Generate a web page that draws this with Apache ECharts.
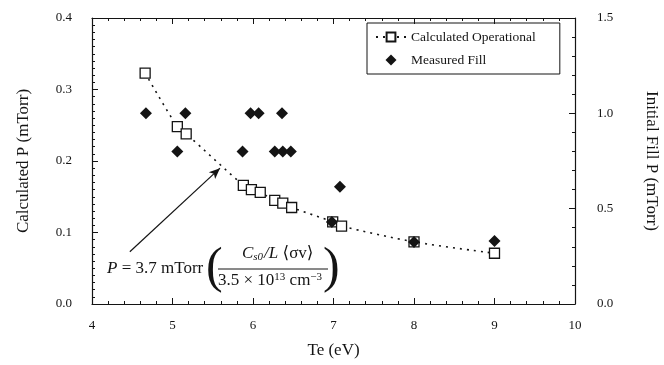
<!DOCTYPE html>
<html>
<head>
<meta charset="utf-8">
<script src="https://cdn.jsdelivr.net/npm/echarts@6/dist/echarts.min.js"></script>
<style>
    html, body { margin: 0; padding: 0; background: #fff; }
    #main { width: 664px; height: 365px; }
</style>
</head>
<body>
<div id="main"></div>
<script>
    // calculated operational pressure (left axis, mTorr) vs Te (eV)
    var calcTe = [4.66, 5.06, 5.17, 5.88, 5.98, 6.09, 6.27, 6.37, 6.48, 6.99, 7.1, 8.0, 9.0];
    var calcP = [0.323, 0.248, 0.238, 0.166, 0.16, 0.156, 0.145, 0.141, 0.135, 0.115, 0.109, 0.087, 0.071];
    // measured initial fill pressure (right axis, mTorr)
    var fillTe = [4.67, 5.06, 5.16, 5.87, 5.97, 6.07, 6.27, 6.36, 6.37, 6.47, 6.98, 7.08, 8.0, 9.0];
    var fillP = [1.0, 0.8, 1.0, 0.8, 1.0, 1.0, 0.8, 1.0, 0.8, 0.8, 0.43, 0.615, 0.325, 0.33];
    // arrow pointing from the formula to the curve (data coords)
    var arrowFrom = [4.47, 0.073];
    var arrowTo = [5.59, 0.19];

    var serif = '"Liberation Serif", "DejaVu Serif", serif';
    var ink = '#141414';

    function pairs(xs, ys) {
        return xs.map(function (x, i) { return [x, ys[i]]; });
    }

    var chart = echarts.init(document.getElementById('main'));

    var axisCommon = {
        axisLine: { show: true, onZero: false, lineStyle: { color: ink, width: 1.2 } },
        axisTick: { show: true, inside: true, length: 6, lineStyle: { color: ink } },
        splitLine: { show: false },
        axisLabel: { color: ink, fontFamily: serif, fontSize: 13 }
    };

    chart.setOption({
        animation: false,
        backgroundColor: '#fff',
        grid: { left: 92, right: 89, top: 18, bottom: 61, containLabel: false, outerBoundsMode: 'none' },
        legend: {
            left: 367,
            top: 23,
            orient: 'vertical',
            padding: [7, 24, 7, 8],
            itemGap: 9,
            itemWidth: 30,
            itemHeight: 11,
            borderColor: ink,
            borderWidth: 1,
            textStyle: { color: ink, fontFamily: serif, fontSize: 13.5 },
            data: [
                'Calculated Operational',
                { name: 'Measured Fill', icon: 'path://M5,0 L10,5 L5,10 L0,5 Z' }
            ]
        },
        xAxis: [
            Object.assign({}, axisCommon, {
                type: 'value', min: 4, max: 10, interval: 1,
                minorTick: { show: true, splitNumber: 5, length: 3, lineStyle: { color: ink } },
                axisLabel: { color: ink, fontFamily: serif, fontSize: 13, margin: 15 },
                name: 'Te (eV)', nameLocation: 'middle', nameGap: 38,
                nameTextStyle: { color: ink, fontFamily: serif, fontSize: 17 }
            }),
            Object.assign({}, axisCommon, {
                type: 'value', min: 4, max: 10, interval: 1, position: 'top',
                minorTick: { show: true, splitNumber: 5, length: 3, lineStyle: { color: ink } },
                axisLabel: { show: false }
            })
        ],
        yAxis: [
            Object.assign({}, axisCommon, {
                type: 'value', min: 0, max: 0.4, interval: 0.1, position: 'left',
                minorTick: { show: true, splitNumber: 10, length: 3, lineStyle: { color: ink } },
                axisLabel: {
                    color: ink, fontFamily: serif, fontSize: 13, margin: 20,
                    formatter: function (v) { return v.toFixed(1); }
                },
                name: 'Calculated P (mTorr)', nameLocation: 'middle', nameGap: 60,
                nameTextStyle: { color: ink, fontFamily: serif, fontSize: 17 }
            }),
            Object.assign({}, axisCommon, {
                type: 'value', min: 0, max: 1.5, interval: 0.5, position: 'right',
                minorTick: { show: true, splitNumber: 5, length: 3, lineStyle: { color: ink } },
                axisLabel: {
                    color: ink, fontFamily: serif, fontSize: 13, margin: 22,
                    formatter: function (v) { return v.toFixed(1); }
                },
                name: 'Initial Fill P (mTorr)', nameLocation: 'middle', nameGap: 68, nameRotate: -90,
                nameTextStyle: { color: ink, fontFamily: serif, fontSize: 17 }
            })
        ],
        series: [
            {
                name: 'Calculated Operational',
                type: 'line',
                xAxisIndex: 0,
                yAxisIndex: 0,
                data: pairs(calcTe, calcP),
                smooth: 0.3,
                symbol: 'rect',
                symbolSize: 10,
                showAllSymbol: true,
                lineStyle: { color: ink, width: 1.6, type: [2, 5] },
                itemStyle: { color: '#fff', borderColor: ink, borderWidth: 1.3 },
                markLine: {
                    silent: true,
                    symbol: ['none', 'arrow'],
                    symbolSize: [7, 11],
                    label: { show: false },
                    lineStyle: { color: ink, width: 1.2, type: 'solid' },
                    data: [[{ coord: arrowFrom }, { coord: arrowTo }]]
                },
                z: 2
            },
            {
                name: 'Measured Fill',
                type: 'scatter',
                xAxisIndex: 0,
                yAxisIndex: 1,
                data: pairs(fillTe, fillP),
                symbol: 'diamond',
                symbolSize: 12,
                itemStyle: { color: ink, opacity: 1 },
                z: 3
            }
        ],
        graphic: [
            {
                type: 'text', left: 107, top: 260,
                style: {
                    text: '{it|P} = 3.7 mTorr',
                    fill: ink, font: '17px ' + serif,
                    rich: { it: { fontStyle: 'italic', fontSize: 17, fontFamily: serif } }
                }
            },
            {
                type: 'text', left: 206, top: 244,
                style: { text: '(', fill: ink, font: '50px ' + serif }
            },
            {
                type: 'text', left: 323, top: 244,
                style: { text: ')', fill: ink, font: '50px ' + serif }
            },
            {
                type: 'text', left: 242, top: 245,
                style: {
                    text: '{it|C}{sub|s0}{it|/L} ⟨σv⟩',
                    fill: ink, font: '17px ' + serif,
                    rich: {
                        it: { fontStyle: 'italic', fontSize: 17, fontFamily: serif },
                        sub: { fontStyle: 'italic', fontSize: 11, fontFamily: serif, verticalAlign: 'bottom', padding: [7, 1, 0, 0] }
                    }
                }
            },
            {
                type: 'line',
                shape: { x1: 218, y1: 269, x2: 328, y2: 269 },
                style: { stroke: ink, lineWidth: 1 }
            },
            {
                type: 'text', left: 218, top: 272,
                style: {
                    text: '3.5 × 10{sup|13} cm{sup|−3}',
                    fill: ink, font: '17px ' + serif,
                    rich: {
                        sup: { fontSize: 11, fontFamily: serif, verticalAlign: 'top', padding: [0, 0, 7, 0] }
                    }
                }
            }
        ]
    });
</script>
</body>
</html>
